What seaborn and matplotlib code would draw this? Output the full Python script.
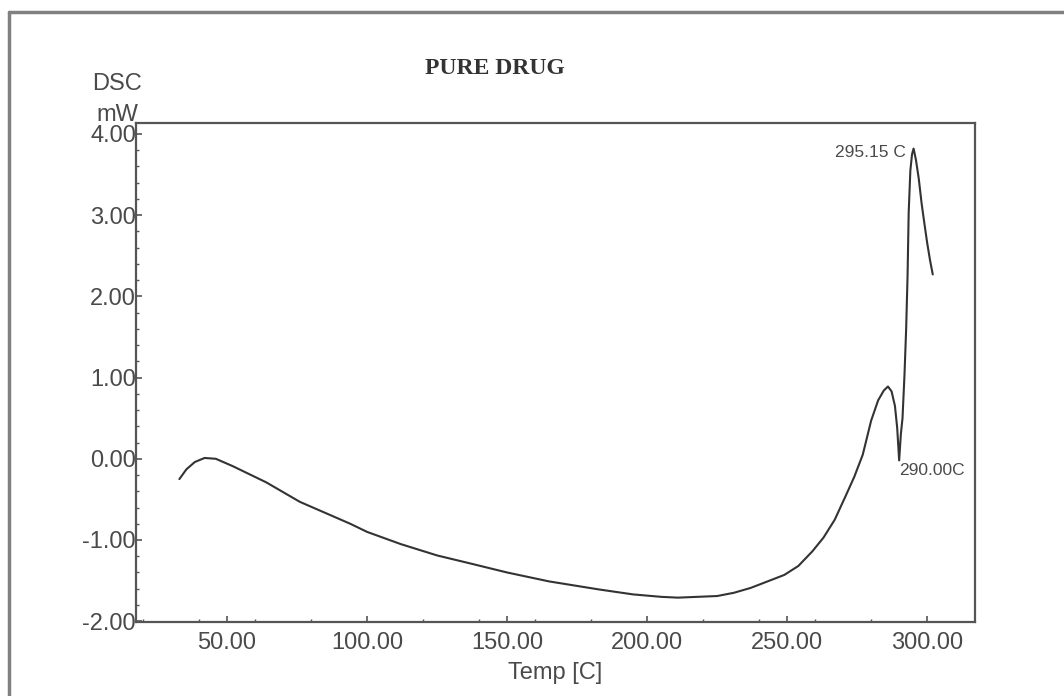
import pandas as pd
import seaborn as sns
import matplotlib.pyplot as plt
from matplotlib.lines import Line2D
from matplotlib.ticker import MultipleLocator, FixedLocator, FixedFormatter

# DSC trace
temp = [33.0, 35.5, 38.5, 42.0, 46.0, 52.0, 58.0, 64.0, 70.0, 76.0, 82.0, 88.0,
        94.0, 100.0, 112.0, 125.0, 137.0, 150.0, 165.0, 183.0, 195.0, 205.0,
        211.0, 218.0, 225.0, 231.0, 237.0, 243.0, 249.0, 254.0, 259.0, 263.0,
        267.0, 271.0, 274.0, 277.0, 280.0, 282.5, 284.5, 286.0, 287.3, 288.5,
        289.3, 290.0, 290.6, 291.2, 291.9, 292.5, 293.0, 293.4, 294.0, 294.6,
        295.15, 296.0, 297.0, 298.0, 299.0, 300.0, 301.0, 302.0]
dsc = [-0.25, -0.13, -0.04, 0.01, 0.0, -0.09, -0.19, -0.29, -0.41, -0.53, -0.62, -0.71,
       -0.80, -0.90, -1.05, -1.19, -1.29, -1.40, -1.51, -1.61, -1.67, -1.70,
       -1.71, -1.70, -1.69, -1.65, -1.59, -1.51, -1.43, -1.32, -1.14, -0.97,
       -0.75, -0.45, -0.22, 0.05, 0.47, 0.72, 0.84, 0.89, 0.83, 0.65,
       0.38, -0.02, 0.30, 0.50, 1.03, 1.60, 2.25, 3.03, 3.55, 3.75,
       3.82, 3.68, 3.45, 3.15, 2.90, 2.66, 2.45, 2.27]

x_ticks = [50, 100, 150, 200, 250, 300]
x_labels = ['50.00', '100.00', '150.00', '200.00', '250.00', '300.00']
y_ticks = [-2, -1, 0, 1, 2, 3, 4]
y_labels = ['-2.00', '-1.00', '0.00', '1.00', '2.00', '3.00', '4.00']

peaks = [(295.15, 3.82, '295.15 C'), (290.00, -0.02, '290.00C')]

df = pd.DataFrame({'Temp': temp, 'DSC': dsc})

sns.set_style('white')
plt.rcParams['font.family'] = ['Liberation Sans', 'DejaVu Sans']

txt = '#4a4a4a'
edge = '#555555'

fig = plt.figure(figsize=(10.64, 6.96), dpi=100)
ax = fig.add_axes([0.1278, 0.1063, 0.7886, 0.7170])

sns.lineplot(data=df, x='Temp', y='DSC', ax=ax, color='#333333', linewidth=1.5)

ax.set_xlim(17.5, 317.1)
ax.set_ylim(-2.01, 4.135)
ax.xaxis.set_major_locator(FixedLocator(x_ticks))
ax.xaxis.set_major_formatter(FixedFormatter(x_labels))
ax.yaxis.set_major_locator(FixedLocator(y_ticks))
ax.yaxis.set_major_formatter(FixedFormatter(y_labels))
ax.xaxis.set_minor_locator(MultipleLocator(20))
ax.yaxis.set_minor_locator(MultipleLocator(0.2))

# ticks point inwards, like the instrument software
ax.tick_params(axis='both', which='both', direction='in', colors=edge,
               labelcolor=txt, labelsize=17, bottom=True, left=True)
ax.tick_params(axis='both', which='major', length=4.5, width=1.2)
ax.tick_params(axis='both', which='minor', length=2.5, width=1.0)
ax.tick_params(axis='x', pad=7)
ax.tick_params(axis='y', pad=0)

for s in ax.spines.values():
    s.set_color(edge)
    s.set_linewidth(1.6)

ax.set_xlabel('Temp [C]', fontsize=17, color=txt, labelpad=6)
ax.set_ylabel('')

# peak labels
ax.annotate(peaks[0][2], (peaks[0][0], peaks[0][1]), xytext=(-8, -4),
            textcoords='offset pixels', ha='right', va='center',
            fontsize=12.5, color=txt)
ax.annotate(peaks[1][2], (peaks[1][0], peaks[1][1]), xytext=(0, -10),
            textcoords='offset pixels', ha='left', va='center',
            fontsize=12.5, color=txt)

fig.text(0.110, 0.879, 'DSC', ha='center', va='center', fontsize=17, color=txt)
fig.text(0.110, 0.835, 'mW', ha='center', va='center', fontsize=17, color=txt)
fig.text(0.465, 0.902, 'PURE DRUG', ha='center', va='center', fontsize=17,
         fontweight='bold', family=['Liberation Serif', 'DejaVu Serif'], color='#333333')

# outer frame (top and left edges)
fig.add_artist(Line2D([0.0085, 1.0], [0.983, 0.983], transform=fig.transFigure,
                      color='#808080', linewidth=2.5))
fig.add_artist(Line2D([0.0085, 0.0085], [0.0, 0.983], transform=fig.transFigure,
                      color='#808080', linewidth=2.5))

plt.savefig('out.png', dpi=100)
